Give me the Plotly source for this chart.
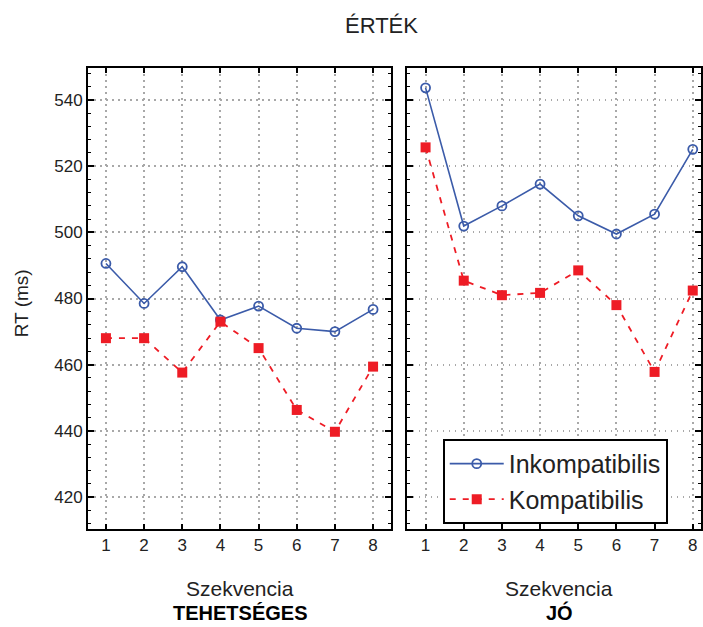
import plotly.graph_objects as go

szekvencia = [1, 2, 3, 4, 5, 6, 7, 8]

teh_inkompatibilis = [490.6, 478.5, 489.6, 473.5, 477.7, 471.0, 470.0, 476.7]
teh_kompatibilis = [468.0, 468.0, 457.6, 473.0, 465.0, 446.3, 439.7, 459.4]

jo_inkompatibilis = [543.7, 501.9, 508.0, 514.6, 505.0, 499.5, 505.5, 525.1]
jo_kompatibilis = [525.7, 485.4, 481.0, 481.7, 488.5, 478.0, 457.8, 482.4]

y_ticks = [420, 440, 460, 480, 500, 520, 540]

panel_names = ["TEHETSÉGES", "JÓ"]
series_names = ["Inkompatibilis", "Kompatibilis"]

BLUE = "#3b5ba9"
RED = "#ee1c25"
FONT = "Liberation Sans, Arial, sans-serif"

fig = go.Figure()

panels = [
    ("x", "y", teh_inkompatibilis, teh_kompatibilis, False),
    ("x2", "y2", jo_inkompatibilis, jo_kompatibilis, True),
]
for xa, ya, ink, komp, show in panels:
    fig.add_trace(go.Scatter(
        x=szekvencia, y=ink, xaxis=xa, yaxis=ya, name=series_names[0],
        mode="lines+markers", showlegend=show, legendgroup="a",
        line=dict(color=BLUE, width=1.6),
        marker=dict(symbol="circle-open", size=9, color=BLUE, line=dict(width=1.8, color=BLUE)),
    ))
    fig.add_trace(go.Scatter(
        x=szekvencia, y=komp, xaxis=xa, yaxis=ya, name=series_names[1],
        mode="lines+markers", showlegend=show, legendgroup="b",
        line=dict(color=RED, width=1.8, dash="6px,7px"),
        marker=dict(symbol="square", size=10, color=RED),
    ))

common_x = dict(
    tickvals=szekvencia, ticks="inside", ticklen=5, tickwidth=1.5, tickcolor="black",
    showline=True, linecolor="black", linewidth=1.8, mirror="ticks",
    showgrid=True, gridcolor="#a8a8a8", griddash="1.5px,4.5px", gridwidth=1.5,
    zeroline=False, tickfont=dict(family=FONT, size=17, color="#222"),
)
common_y = dict(
    range=[410.3, 549.7], tickvals=y_ticks, ticks="inside", ticklen=6, tickwidth=1.5,
    tickcolor="black", showline=True, linecolor="black", linewidth=1.8, mirror="ticks",
    showgrid=True, gridcolor="#a8a8a8", griddash="1.5px,4.5px", gridwidth=1.5,
    zeroline=False, tickfont=dict(family=FONT, size=17, color="#222"),
    minor=dict(dtick=4, tick0=0, ticks="inside", ticklen=3, tickwidth=1.3,
               tickcolor="black", showgrid=False),
)

fig.update_layout(
    width=703, height=627,
    margin=dict(l=88, r=0, t=68, b=98),
    paper_bgcolor="white", plot_bgcolor="white",
    font=dict(family=FONT, color="#222"),
    xaxis=dict(domain=[0, 0.4943], range=[0.53, 8.47], **common_x),
    xaxis2=dict(domain=[0.5203, 1.0], range=[0.512, 8.216], **common_x),
    yaxis=dict(anchor="x", **common_y),
    yaxis2=dict(anchor="x2", showticklabels=False, **common_y),
    legend=dict(
        x=0.579, y=0.195, xanchor="left", yanchor="top",
        bgcolor="white", bordercolor="black", borderwidth=1.8,
        font=dict(family=FONT, size=25, color="#222"),
        traceorder="grouped", tracegroupgap=0, itemwidth=54,
    ),
    showlegend=True,
)

annotations = [
    dict(text="ÉRTÉK", xref="paper", yref="paper", x=0.478, y=1.093,
         xanchor="center", yanchor="middle", showarrow=False,
         font=dict(family=FONT, size=22, color="#222")),
    dict(text="RT (ms)", xref="paper", yref="paper", x=-0.109, y=0.49,
         xanchor="center", yanchor="middle", textangle=-90, showarrow=False,
         font=dict(family=FONT, size=19, color="#222")),
]
for xr, name in zip(["x", "x2"], panel_names):
    annotations.append(dict(text="Szekvencia", xref=xr, yref="paper", x=4.5, y=-0.128,
                            xanchor="center", yanchor="middle", showarrow=False,
                            font=dict(family=FONT, size=21, color="#222")))
    annotations.append(dict(text="<b>" + name + "</b>", xref=xr, yref="paper", x=4.5, y=-0.182,
                            xanchor="center", yanchor="middle", showarrow=False,
                            font=dict(family=FONT, size=20, color="black")))
fig.update_layout(annotations=annotations)

fig.write_html("out.html")
